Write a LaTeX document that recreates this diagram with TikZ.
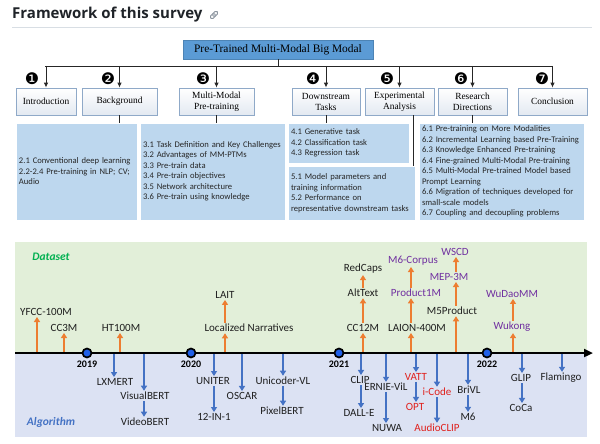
\documentclass[tikz,border=0pt]{standalone}
\usepackage{fontspec}
\setmainfont{Liberation Serif}
\newfontfamily\calibri{Carlito}
\newfontfamily\headfont{Open Sans}
\newfontfamily\symfont{DejaVu Sans}
\usetikzlibrary{positioning,arrows.meta,calc}
\definecolor{titlecol}{HTML}{1F2328}
\definecolor{rulegray}{HTML}{D8DEE4}
\definecolor{linkgray}{HTML}{8C959F}
\definecolor{rootfill}{HTML}{5B9BD5}
\definecolor{sectline}{HTML}{8FA9C8}
\definecolor{sectshade}{HTML}{E3E9F1}
\definecolor{infofill}{HTML}{BDD7EE}
\definecolor{infotext}{HTML}{262626}
\definecolor{dsgreen}{HTML}{E2EFD9}
\definecolor{alblue}{HTML}{DCE2F3}
\definecolor{dsgtext}{HTML}{00B050}
\definecolor{arrorange}{HTML}{ED7D31}
\definecolor{arrblue}{HTML}{4472C4}
\definecolor{yearblue}{HTML}{1F5FE8}
\definecolor{modpurple}{HTML}{7030A0}
\definecolor{modred}{HTML}{E0201C}

\begin{document}
\begin{tikzpicture}[x=1pt,y=-1pt,
  root/.style={fill=rootfill, draw=rootfill!85!black, line width=0.4pt, minimum width=190pt, minimum height=19pt, inner sep=1pt, font=\fontsize{11.4}{13}\selectfont},
  sect/.style={draw=sectline, line width=0.8pt, top color=white, bottom color=sectshade, minimum height=27pt, inner sep=1pt, align=center, font=\fontsize{9.4}{11}\selectfont},
  info/.style={fill=infofill, draw=white, line width=0.6pt, inner xsep=3pt, inner ysep=0pt, align=left, text=infotext, font=\calibri\fontsize{8.6}{10.5}\selectfont},
  num/.style={font=\symfont\fontsize{16}{16}\selectfont, inner sep=0pt},
  tree/.style={draw=black!85, line width=0.9pt},
  treearr/.style={tree, -{Latex[length=5pt,width=4.5pt]}},
  lbl/.style={font=\calibri\fontsize{11}{12}\selectfont, text=black!88, inner sep=1.2pt},
  pur/.style={lbl, text=modpurple},
  redlbl/.style={lbl, text=modred},
  uparr/.style={draw=arrorange, line width=1.3pt, -{Triangle[length=5pt,width=6pt]}},
  downarr/.style={draw=arrblue, line width=1.3pt, -{Triangle[length=5pt,width=6pt]}},
  year/.style={circle, draw=black, line width=1.7pt, fill=yearblue, minimum size=9pt, inner sep=0pt},
  yearlbl/.style={font=\calibri\bfseries\fontsize{10}{11}\selectfont, inner sep=0.5pt},
  axisline/.style={draw=black, line width=2.4pt, -{Triangle[length=9pt,width=8pt]}}
]
\useasboundingbox (0,0) rectangle (600,444);

% heading
\node[anchor=base west, inner sep=0pt, text=titlecol, font=\headfont\bfseries\fontsize{15}{18}\selectfont] (title) at (12,19) {Framework of this survey};
\draw[linkgray, line width=0.9pt, rounded corners=1.4pt, rotate around={45:(214,15)}] (209.5,13.3) rectangle (215.3,16.7);
\draw[linkgray, line width=0.9pt, rounded corners=1.4pt, rotate around={45:(214,15)}] (212.7,13.3) rectangle (218.5,16.7);
\draw[rulegray, line width=0.8pt] (12,27) -- (592,27);

% survey tree
\node[root] (root) at (278,49.5) {Pre-Trained Multi-Modal Big Modal};
\coordinate (busL) at (45,66);
\coordinate (busR) at (552,66);

\node[sect, minimum width=60pt] (intro) at (46,101.5) {Introduction};
\node[sect, minimum width=75pt] (bg) at (119.5,101.5) {Background};
\node[sect, minimum width=75pt] (mm) at (216.5,101.5) {Multi-Modal\\Pre-training};
\node[sect, minimum width=68pt] (ds) at (326,101.5) {Downstream\\Tasks};
\node[sect, minimum width=69pt] (ea) at (399.5,101.5) {Experimental\\Analysis};
\node[sect, minimum width=69pt] (rd) at (472.5,101.5) {Research\\Directions};
\node[sect, minimum width=69pt] (con) at (552.5,101.5) {Conclusion};

\draw[tree] (root.south) -- (root.south |- busL);
\draw[tree] (busL) -- (busR);
\foreach \b in {intro,bg,mm,ds,ea,rd,con}
  \draw[treearr] (\b.north |- busL) -- (\b.north);

\node[num] (n1) at (32,79) {❶};
\node[num] (n2) at (108,79) {❷};
\node[num] (n3) at (203,79) {❸};
\node[num] (n4) at (313,79) {❹};
\node[num] (n5) at (387,79) {❺};
\node[num] (n6) at (461,79) {❻};
\node[num] (n7) at (542,79) {❼};

\node[info, text width=115pt, minimum height=97pt] (bgtxt) at (76.5,171.5) {2.1 Conventional deep learning\\2.2-2.4 Pre-training in NLP; CV;\\Audio};
\node[info, text width=139pt, minimum height=97pt] (mmtxt) at (212.5,171.5) {3.1 Task Definition and Key Challenges\\3.2 Advantages of MM-PTMs\\3.3 Pre-train data\\3.4 Pre-train objectives\\3.5 Network architecture\\3.6 Pre-train using knowledge};
\node[info, text width=115pt, minimum height=40pt] (dstxt) at (348.5,143) {4.1 Generative task\\4.2 Classification task\\4.3 Regression task};
\node[info, text width=121pt, minimum height=54pt] (eatxt) at (351.5,193) {5.1 Model parameters and\\training information\\5.2 Performance on\\representative downstream tasks};
\node[info, text width=159pt, minimum height=97pt] (rdtxt) at (501.5,171.5) {6.1 Pre-training on More Modalities\\6.2 Incremental Learning based Pre-Training\\6.3 Knowledge Enhanced Pre-training\\6.4 Fine-grained Multi-Modal Pre-training\\6.5 Multi-Modal Pre-trained Model based\\Prompt Learning\\6.6 Migration of techniques developed for\\small-scale models\\6.7 Coupling and decoupling problems};

\coordinate (eadrop) at (413,0);
\draw[tree] (bg.south) -- (bg.south |- bgtxt.north);
\draw[tree] (mm.south) -- (mm.south |- mmtxt.north);
\draw[tree] (ds.south) -- (ds.south |- dstxt.north);
\draw[tree] (eadrop |- ea.south) -- (eadrop |- eatxt.north);
\draw[tree] (rd.south) -- (rd.south |- rdtxt.north);

% timeline panels
\fill[dsgreen] (15,242) rectangle (587,353);
\fill[alblue] (15,353) rectangle (587,437);
\node[font=\calibri\bfseries\itshape\fontsize{11.5}{13}\selectfont, text=dsgtext] (dslbl) at (51,257) {Dataset};
\node[font=\calibri\bfseries\itshape\fontsize{11.5}{13}\selectfont, text=arrblue] (allbl) at (51,422) {Algorithm};

% dataset side
\node[lbl] (yfcc) at (46,312) {YFCC-100M};
\node[lbl] (cc3m) at (64,328) {CC3M};
\node[lbl] (ht) at (121,328) {HT100M};
\node[lbl] (locnar) at (249,328) {Localized Narratives};
\node[lbl] (lait) at (225,295) {LAIT};
\node[lbl] (cc12m) at (363,328) {CC12M};
\node[lbl] (alttext) at (363,293) {AltText};
\node[lbl] (redcaps) at (363,269) {RedCaps};
\node[lbl] (laion) at (417,328) {LAION-400M};
\node[pur] (prod1m) at (416,293) {Product1M};
\node[pur] (m6corp) at (413,261) {M6-Corpus};
\node[lbl] (m5prod) at (452,311) {M5Product};
\node[pur] (mep) at (449,277) {MEP-3M};
\node[pur] (wscd) at (455,252) {WSCD};
\node[pur] (wukong) at (512,327) {Wukong};
\node[pur] (wudao) at (512,294) {WuDaoMM};

\coordinate (d-yfcc) at (37,353);
\coordinate (d-cc3m) at (64,353);
\coordinate (d-ht) at (120,353);
\coordinate (d-locnar) at (225,353);
\coordinate (d-cc12m) at (363,353);
\coordinate (d-laion) at (411,353);
\coordinate (d-m5prod) at (456,353);
\coordinate (d-wukong) at (513,353);

\draw[uparr] (d-yfcc) -- (d-yfcc |- yfcc.south);
\draw[uparr] (d-cc3m) -- (d-cc3m |- cc3m.south);
\draw[uparr] (d-ht) -- (d-ht |- ht.south);
\draw[uparr] (d-locnar) -- (d-locnar |- locnar.south);
\draw[uparr] (d-locnar |- locnar.north) -- (d-locnar |- lait.south);
\draw[uparr] (d-cc12m) -- (d-cc12m |- cc12m.south);
\draw[uparr] (d-cc12m |- cc12m.north) -- (d-cc12m |- alttext.south);
\draw[uparr] (d-cc12m |- alttext.north) -- (d-cc12m |- redcaps.south);
\draw[uparr] (d-laion) -- (d-laion |- laion.south);
\draw[uparr] (d-laion |- laion.north) -- (d-laion |- prod1m.south);
\draw[uparr] (d-laion |- prod1m.north) -- (d-laion |- m6corp.south);
\draw[uparr] (d-m5prod) -- (d-m5prod |- m5prod.south);
\draw[uparr] (d-m5prod |- m5prod.north) -- (d-m5prod |- mep.south);
\draw[uparr] (d-m5prod |- mep.north) -- (d-m5prod |- wscd.south);
\draw[uparr] (d-wukong) -- (d-wukong |- wukong.south);
\draw[uparr] (d-wukong |- wukong.north) -- (d-wukong |- wudao.south);

% algorithm side
\node[lbl] (lxmert) at (115,382) {LXMERT};
\node[lbl] (visbert) at (145,396) {VisualBERT};
\node[lbl] (vidbert) at (145,422) {VideoBERT};
\node[lbl] (uniter) at (213,381) {UNITER};
\node[lbl] (twelve) at (214,417) {12-IN-1};
\node[lbl] (oscar) at (242,396) {OSCAR};
\node[lbl] (unicoder) at (283,381) {Unicoder-VL};
\node[lbl] (pixbert) at (282,411) {PixelBERT};
\node[lbl] (clip) at (360,380) {CLIP};
\node[lbl] (dalle) at (359,413) {DALL-E};
\node[lbl] (ernie) at (386,387) {ERNIE-ViL};
\node[lbl] (nuwa) at (387,428) {NUWA};
\node[redlbl] (vatt) at (416,377) {VATT};
\node[redlbl] (opt) at (415,407) {OPT};
\node[redlbl] (icode) at (437,392) {i-Code};
\node[redlbl] (audioclip) at (437,428) {AudioCLIP};
\node[lbl] (brivl) at (469,390) {BriVL};
\node[lbl] (msix) at (468,417) {M6};
\node[lbl] (glip) at (521,378) {GLIP};
\node[lbl] (coca) at (521,408) {CoCa};
\node[lbl] (flamingo) at (561,378) {Flamingo};

\coordinate (a-lxmert) at (114,353);
\coordinate (a-visbert) at (144,353);
\coordinate (a-uniter) at (214,353);
\coordinate (a-oscar) at (242,353);
\coordinate (a-unicoder) at (283,353);
\coordinate (a-clip) at (361,353);
\coordinate (a-ernie) at (386,353);
\coordinate (a-vatt) at (416,353);
\coordinate (a-icode) at (437,353);
\coordinate (a-brivl) at (468,353);
\coordinate (a-glip) at (522,353);
\coordinate (a-flamingo) at (562,353);

\draw[downarr] (a-lxmert) -- (a-lxmert |- lxmert.north);
\draw[downarr] (a-visbert) -- (a-visbert |- visbert.north);
\draw[downarr] (a-visbert |- visbert.south) -- (a-visbert |- vidbert.north);
\draw[downarr] (a-uniter) -- (a-uniter |- uniter.north);
\draw[downarr] (a-uniter |- uniter.south) -- (a-uniter |- twelve.north);
\draw[downarr] (a-oscar) -- (a-oscar |- oscar.north);
\draw[downarr] (a-unicoder) -- (a-unicoder |- unicoder.north);
\draw[downarr] (a-unicoder |- unicoder.south) -- (a-unicoder |- pixbert.north);
\draw[downarr] (a-clip) -- (a-clip |- clip.north);
\draw[downarr] (a-clip |- clip.south) -- (a-clip |- dalle.north);
\draw[downarr] (a-ernie) -- (a-ernie |- ernie.north);
\draw[downarr] (a-ernie |- ernie.south) -- (a-ernie |- nuwa.north);
\draw[downarr] (a-vatt) -- (a-vatt |- vatt.north);
\draw[downarr] (a-vatt |- vatt.south) -- (a-vatt |- opt.north);
\draw[downarr] (a-icode) -- (a-icode |- icode.north);
\draw[downarr] (a-icode |- icode.south) -- (a-icode |- audioclip.north);
\draw[downarr] (a-brivl) -- (a-brivl |- brivl.north);
\draw[downarr] (a-brivl |- brivl.south) -- (a-brivl |- msix.north);
\draw[downarr] (a-glip) -- (a-glip |- glip.north);
\draw[downarr] (a-glip |- glip.south) -- (a-glip |- coca.north);
\draw[downarr] (a-flamingo) -- (a-flamingo |- flamingo.north);

% time axis
\coordinate (axL) at (15,353);
\coordinate (axR) at (593,353);
\draw[axisline] (axL) -- (axR);
\node[year] (y2019) at (87,353) {};
\node[year] (y2020) at (191,353) {};
\node[year] (y2021) at (339,353) {};
\node[year] (y2022) at (487,353) {};
\node[yearlbl, below=2pt of y2019] (l2019) {2019};
\node[yearlbl, below=2pt of y2020] (l2020) {2020};
\node[yearlbl, below=2pt of y2021] (l2021) {2021};
\node[yearlbl, below=2pt of y2022] (l2022) {2022};
\end{tikzpicture}
\end{document}
